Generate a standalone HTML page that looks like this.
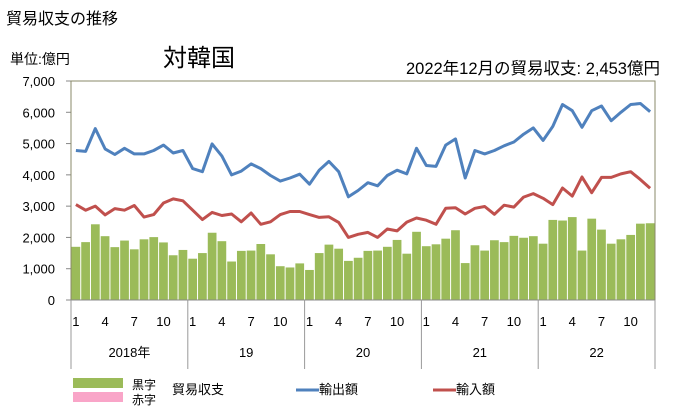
<!DOCTYPE html><html><head><meta charset="utf-8"><style>body{margin:0;background:#fff}svg{display:block;font-family:"Liberation Sans","Noto Sans CJK JP",sans-serif}</style></head><body>
<svg width="673" height="416" xmlns="http://www.w3.org/2000/svg" id="s">
<text x="6" y="24" font-size="16">貿易収支の推移</text>
<text x="10" y="64" font-size="14">単位:億円</text>
<text x="163" y="66" font-size="24">対韓国</text>
<text x="660" y="74" font-size="16.5" text-anchor="end">2022年12月の貿易収支: 2,453億円</text>
<g id="g"></g>
</svg>
<script>
var X0=71,X1=655,Y0=300,H=219,W=(X1-X0)/60;
function y(v){return Y0-v/7000*H}
var ex=[4780,4750,5480,4830,4650,4850,4670,4670,4780,4950,4700,4780,4200,4100,4990,4600,4000,4120,4350,4200,3980,3800,3900,4020,3700,4150,4430,4100,3300,3500,3750,3650,3980,4150,4030,4850,4300,4270,4950,5150,3900,4780,4670,4780,4930,5050,5300,5500,5100,5550,6250,6050,5520,6050,6200,5730,6000,6250,6280,6020];
var im=[3050,2870,3000,2720,2920,2870,3020,2650,2730,3100,3230,3170,2870,2570,2800,2700,2750,2500,2780,2420,2500,2730,2830,2830,2730,2640,2660,2480,2000,2100,2160,2000,2270,2210,2490,2620,2550,2420,2930,2950,2750,2930,2990,2740,3030,2970,3290,3400,3250,3050,3580,3320,3930,3430,3920,3920,4030,4100,3850,3570];
var b=[1700,1850,2420,2040,1690,1900,1620,1940,2010,1840,1430,1600,1320,1500,2150,1880,1230,1570,1580,1790,1460,1080,1040,1170,960,1500,1770,1640,1250,1350,1570,1580,1700,1920,1480,2180,1720,1780,1960,2230,1180,1750,1580,1910,1850,2050,1990,2040,1800,2560,2540,2650,1580,2600,2250,1800,1940,2080,2440,2453];
var s='';
for(var i=0;i<=7;i++){var yy=y(i*1000);s+='<line x1="66" x2="71" y1="'+yy+'" y2="'+yy+'" stroke="#888"/><text x="55" y="'+(yy+5)+'" font-size="13" text-anchor="end">'+(i?(i*1000).toLocaleString('en-US'):'0')+'</text>';}
for(var i=0;i<60;i++){s+='<rect x="'+(X0+i*W+0.5)+'" y="'+y(b[i])+'" width="'+(W-1)+'" height="'+(b[i]/7000*H)+'" fill="#9bbb59"/>';}
function pl(a,c){var p=a.map(function(v,i){return (X0+(i+.5)*W).toFixed(1)+','+y(v).toFixed(1)}).join(' ');return '<polyline points="'+p+'" fill="none" stroke="'+c+'" stroke-width="3" stroke-linejoin="round"/>'}
s+=pl(ex,'#4f81bd')+pl(im,'#c0504d');
s+='<rect x="71" y="81" width="584" height="219" fill="none" stroke="#898969"/>';
s+='<line x1="71" x2="655" y1="300" y2="300" stroke="#888"/>';
var yrs=['2018年','19','20','21','22'];
for(var k=0;k<=5;k++){var xx=X0+k*12*W;s+='<line x1="'+xx+'" x2="'+xx+'" y1="300" y2="369" stroke="#999"/>';}
for(var k=0;k<5;k++){[1,4,7,10].forEach(function(m){s+='<text x="'+(X0+(k*12+m-0.5)*W)+'" y="326" font-size="13" text-anchor="middle">'+m+'</text>'});s+='<text x="'+(X0+(k*12+6)*W)+'" y="357" font-size="13" text-anchor="middle">'+yrs[k]+'</text>';}
s+='<rect x="73" y="378" width="50" height="10" fill="#9bbb59"/><rect x="73" y="392" width="50" height="10" fill="#f9a5c8"/>';
s+='<text x="132" y="389" font-size="12">黒字</text><text x="132" y="404" font-size="12">赤字</text><text x="172" y="394" font-size="13">貿易収支</text>';
s+='<line x1="296" x2="319" y1="390" y2="390" stroke="#4f81bd" stroke-width="3"/><text x="319" y="394" font-size="13">輸出額</text>';
s+='<line x1="433" x2="456" y1="390" y2="390" stroke="#c0504d" stroke-width="3"/><text x="456" y="394" font-size="13">輸入額</text>';
document.getElementById('g').innerHTML=s;
</script>
</body></html>
